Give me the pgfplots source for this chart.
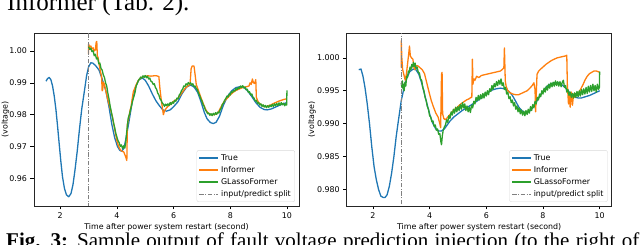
\documentclass[border=0pt]{standalone}
\usepackage{fontspec}
\setmainfont{DejaVu Sans}
\newfontfamily\timesfont{Liberation Serif}
\usepackage{pgfplots}
\pgfplotsset{compat=1.18}
\definecolor{tabblue}{HTML}{1F77B4}
\definecolor{taborange}{HTML}{FF7F0E}
\definecolor{tabgreen}{HTML}{2CA02C}
\newcommand{\chartfont}{\fontsize{7.9}{9}\selectfont}
\pgfplotsset{
  mystyle/.style={
    scale only axis, width=265pt, height=172.5pt,
    xmin=1.075, xmax=10.425,
    xtick={2,4,6,8,10},
    tick align=outside, tick pos=left,
    major tick length=3.5pt,
    every tick/.style={black, line width=0.6pt},
    axis line style={black!85, line width=0.6pt},
    tick label style={font=\chartfont},
    label style={font=\chartfont},
    xlabel style={inner sep=1pt},
    /pgf/number format/assume math mode=true,
    xlabel={Time after power system restart (second)},
    ylabel={(voltage)},
    legend style={at={(1,0)}, anchor=south east, xshift=-4pt, yshift=4pt,
      draw=black!15, rounded corners=2pt, font=\chartfont, fill=white,
      inner sep=2pt, row sep=0.6pt},
    legend cell align=left,
    legend image code/.code={\draw[#1] (0pt,0pt) -- (19pt,0pt);},
    every axis plot/.append style={line width=1.3pt, line join=round},
  }
}
\begin{document}
\begin{tikzpicture}[x=1pt,y=1pt]
\useasboundingbox (0,0) rectangle (640,245);
\node[anchor=base west, inner sep=0] at (7,234) {\timesfont\fontsize{25}{30}\selectfont Informer (Tab. 2).};
\node[anchor=base west, inner sep=0] at (6,-2.5) {\timesfont\fontsize{21}{24}\selectfont\hbox to 633pt{\textbf{Fig. 3:} Sample output of fault voltage prediction injection (to the right of}};

%================ LEFT ================
\begin{axis}[mystyle, at={(34pt,39pt)}, anchor=south west,
  ymin=0.9513, ymax=1.0055,
  ytick={0.96,0.97,0.98,0.99,1.00},
  yticklabel style={/pgf/number format/.cd, fixed, fixed zerofill, precision=2},
  ylabel style={at={(axis description cs:-0.108,0.5)}, anchor=center},
]
\addplot[tabblue] coordinates {
(1.50,0.9905)(1.55,0.9913)(1.61,0.9917)(1.67,0.9910)(1.73,0.9890)(1.79,0.9858)(1.85,0.9815)(1.90,0.9770)(1.96,0.9712)(2.02,0.9655)(2.08,0.9605)(2.15,0.9568)(2.22,0.9548)(2.30,0.9542)(2.38,0.9552)(2.45,0.9580)(2.52,0.9625)(2.60,0.9685)(2.68,0.9755)(2.76,0.9818)(2.85,0.9872)(2.93,0.9922)(3.00,0.9950)(3.08,0.9963)(3.15,0.9962)(3.25,0.9954)(3.37,0.9940)(3.48,0.9912)(3.61,0.9875)(3.72,0.9825)(3.82,0.9770)(3.92,0.9728)(4.02,0.9700)(4.10,0.9688)(4.17,0.9685)(4.25,0.9695)(4.33,0.9730)(4.43,0.9780)(4.55,0.9845)(4.67,0.9890)(4.78,0.9910)(4.90,0.9915)(5.00,0.9908)(5.12,0.9890)(5.25,0.9865)(5.38,0.9843)(5.50,0.9828)(5.62,0.9815)(5.75,0.9811)(5.88,0.9815)(6.00,0.9825)(6.15,0.9840)(6.30,0.9866)(6.46,0.9887)(6.60,0.9893)(6.72,0.9887)(6.85,0.9870)(6.97,0.9840)(7.08,0.9808)(7.18,0.9787)(7.30,0.9775)(7.40,0.9772)(7.50,0.9776)(7.62,0.9795)(7.75,0.9828)(7.90,0.9857)(8.05,0.9875)(8.20,0.9885)(8.35,0.9888)(8.45,0.9888)(8.60,0.9876)(8.75,0.9858)(8.90,0.9838)(9.05,0.9823)(9.20,0.9816)(9.30,0.9815)(9.45,0.9818)(9.60,0.9824)(9.75,0.9830)(9.90,0.9835)(10.00,0.9838)
};
\addlegendentry{True}
\addplot[taborange] coordinates {
(3.00,0.9990)(3.00,1.0022)(3.04,1.0012)(3.08,1.0016)(3.12,1.0006)(3.16,1.0010)(3.20,1.0000)(3.24,1.0004)(3.27,1.0028)(3.29,1.0030)(3.31,0.9985)(3.34,0.9978)(3.38,0.9955)(3.42,0.9935)(3.46,0.9920)(3.48,0.9875)(3.50,0.9878)(3.52,0.9902)(3.56,0.9895)(3.62,0.9870)(3.70,0.9840)(3.78,0.9815)(3.85,0.9790)(3.92,0.9755)(4.00,0.9718)(4.06,0.9700)(4.12,0.9690)(4.18,0.9685)(4.24,0.9683)(4.30,0.9670)(4.35,0.9656)(4.37,0.9770)(4.42,0.9790)(4.46,0.9812)(4.50,0.9825)(4.54,0.9850)(4.58,0.9872)(4.64,0.9885)(4.70,0.9898)(4.76,0.9908)(4.82,0.9914)(4.90,0.9918)(5.00,0.9921)(5.10,0.9922)(5.20,0.9921)(5.30,0.9922)(5.40,0.9922)(5.48,0.9920)(5.52,0.9880)(5.56,0.9850)(5.60,0.9825)(5.64,0.9800)(5.68,0.9812)(5.74,0.9820)(5.80,0.9826)(5.86,0.9830)(5.92,0.9835)(6.00,0.9842)(6.08,0.9846)(6.16,0.9852)(6.24,0.9862)(6.32,0.9872)(6.40,0.9882)(6.50,0.9890)(6.58,0.9895)(6.62,0.9945)(6.66,0.9953)(6.72,0.9953)(6.76,0.9925)(6.80,0.9895)(6.86,0.9880)(6.92,0.9865)(6.98,0.9850)(7.06,0.9832)(7.14,0.9815)(7.22,0.9805)(7.30,0.9800)(7.40,0.9800)(7.50,0.9802)(7.58,0.9808)(7.66,0.9822)(7.74,0.9835)(7.82,0.9845)(7.90,0.9852)(8.00,0.9862)(8.10,0.9870)(8.20,0.9876)(8.30,0.9880)(8.40,0.9884)(8.50,0.9886)(8.58,0.9888)(8.66,0.9890)(8.70,0.9900)(8.74,0.9895)(8.78,0.9912)(8.82,0.9900)(8.86,0.9898)(8.90,0.9910)(8.92,0.9855)(8.96,0.9845)(9.00,0.9838)(9.06,0.9833)(9.12,0.9830)(9.18,0.9826)(9.26,0.9825)(9.34,0.9828)(9.42,0.9830)(9.50,0.9834)(9.60,0.9838)(9.70,0.9842)(9.80,0.9845)(9.90,0.9848)(10.00,0.9850)
};
\addlegendentry{Informer}
\addplot[tabgreen] coordinates {
(3.00,1.0014)(3.04,1.0005)(3.08,1.0009)(3.12,0.9998)(3.16,1.0001)(3.20,0.9985)(3.24,0.9990)(3.28,0.9975)(3.32,0.9978)(3.36,0.9960)(3.40,0.9962)(3.44,0.9945)(3.48,0.9940)(3.52,0.9925)(3.56,0.9917)(3.60,0.9900)(3.64,0.9890)(3.68,0.9868)(3.72,0.9850)(3.76,0.9828)(3.80,0.9810)(3.84,0.9793)(3.88,0.9775)(3.92,0.9760)(3.96,0.9742)(4.00,0.9730)(4.04,0.9718)(4.08,0.9712)(4.12,0.9700)(4.16,0.9705)(4.20,0.9693)(4.24,0.9702)(4.28,0.9695)(4.31,0.9712)(4.34,0.9740)(4.37,0.9765)(4.40,0.9790)(4.44,0.9800)(4.48,0.9815)(4.52,0.9830)(4.56,0.9845)(4.60,0.9857)(4.64,0.9870)(4.68,0.9890)(4.72,0.9898)(4.76,0.9908)(4.80,0.9912)(4.84,0.9918)(4.88,0.9915)(4.92,0.9922)(4.96,0.9917)(5.00,0.9923)(5.04,0.9916)(5.08,0.9921)(5.12,0.9912)(5.16,0.9915)(5.20,0.9905)(5.24,0.9903)(5.28,0.9895)(5.32,0.9897)(5.36,0.9885)(5.40,0.9880)(5.44,0.9868)(5.48,0.9862)(5.52,0.9850)(5.56,0.9845)(5.60,0.9837)(5.64,0.9833)(5.68,0.9826)(5.72,0.9833)(5.76,0.9828)(5.80,0.9834)(5.84,0.9829)(5.88,0.9838)(5.92,0.9832)(5.96,0.9840)(6.00,0.9836)(6.04,0.9845)(6.08,0.9842)(6.12,0.9852)(6.16,0.9850)(6.20,0.9862)(6.24,0.9866)(6.28,0.9876)(6.32,0.9880)(6.36,0.9890)(6.40,0.9888)(6.44,0.9897)(6.48,0.9893)(6.52,0.9901)(6.56,0.9896)(6.60,0.9900)(6.64,0.9893)(6.68,0.9897)(6.72,0.9888)(6.76,0.9890)(6.80,0.9882)(6.84,0.9878)(6.88,0.9868)(6.92,0.9860)(6.96,0.9850)(7.00,0.9843)(7.04,0.9832)(7.08,0.9826)(7.12,0.9815)(7.16,0.9810)(7.20,0.9803)(7.24,0.9805)(7.28,0.9798)(7.32,0.9803)(7.36,0.9797)(7.40,0.9804)(7.44,0.9799)(7.48,0.9806)(7.52,0.9801)(7.56,0.9808)(7.60,0.9805)(7.64,0.9815)(7.68,0.9820)(7.72,0.9832)(7.76,0.9836)(7.80,0.9845)(7.84,0.9850)(7.88,0.9858)(7.92,0.9855)(7.96,0.9865)(8.00,0.9862)(8.04,0.9872)(8.08,0.9870)(8.12,0.9876)(8.16,0.9874)(8.20,0.9882)(8.24,0.9878)(8.28,0.9885)(8.32,0.9882)(8.36,0.9890)(8.40,0.9885)(8.44,0.9891)(8.48,0.9884)(8.52,0.9887)(8.56,0.9878)(8.60,0.9880)(8.64,0.9870)(8.68,0.9872)(8.72,0.9862)(8.76,0.9865)(8.80,0.9855)(8.84,0.9852)(8.88,0.9843)(8.92,0.9845)(8.96,0.9836)(9.00,0.9838)(9.04,0.9830)(9.08,0.9834)(9.12,0.9826)(9.16,0.9831)(9.20,0.9824)(9.24,0.9829)(9.28,0.9822)(9.32,0.9828)(9.36,0.9823)(9.40,0.9830)(9.44,0.9825)(9.48,0.9832)(9.52,0.9826)(9.56,0.9834)(9.60,0.9828)(9.64,0.9835)(9.68,0.9829)(9.72,0.9837)(9.76,0.9830)(9.80,0.9838)(9.84,0.9831)(9.88,0.9836)(9.92,0.9828)(9.96,0.9834)(9.99,0.9830)(10.00,0.9876)
};
\addlegendentry{GLassoFormer}
\addplot[gray, line width=0.9pt, dash pattern=on 4.5pt off 1.5pt on 1pt off 1.5pt] coordinates {(3,0.94) (3,1.02)};
\addlegendentry{input/predict split}
\end{axis}

%================ RIGHT ================
\begin{axis}[mystyle, at={(346.7pt,39pt)}, anchor=south west,
  ymin=0.9775, ymax=1.0037,
  ytick={0.980,0.985,0.990,0.995,1.000},
  yticklabel style={/pgf/number format/.cd, fixed, fixed zerofill, precision=3},
  ylabel style={at={(axis description cs:-0.131,0.5)}, anchor=center},
]
\addplot[tabblue] coordinates {
(1.50,0.9982)(1.58,0.9983)(1.65,0.9972)(1.72,0.9955)(1.80,0.9930)(1.88,0.9900)(1.96,0.9865)(2.04,0.9835)(2.12,0.9815)(2.20,0.9800)(2.28,0.9790)(2.36,0.9788)(2.43,0.9788)(2.50,0.9792)(2.58,0.9805)(2.66,0.9825)(2.74,0.9850)(2.82,0.9880)(2.90,0.9905)(3.00,0.9935)(3.10,0.9955)(3.20,0.9970)(3.30,0.9979)(3.42,0.9983)(3.52,0.9982)(3.62,0.9975)(3.72,0.9962)(3.82,0.9945)(3.92,0.9928)(4.02,0.9912)(4.12,0.9900)(4.22,0.9892)(4.32,0.9889)(4.42,0.9889)(4.52,0.9892)(4.62,0.9898)(4.72,0.9904)(4.85,0.9910)(5.00,0.9915)(5.15,0.9920)(5.30,0.9924)(5.45,0.9928)(5.60,0.9932)(5.75,0.9937)(5.90,0.9942)(6.05,0.9947)(6.20,0.9951)(6.35,0.9953)(6.50,0.9954)(6.65,0.9953)(6.80,0.9949)(6.92,0.9943)(7.05,0.9933)(7.15,0.9925)(7.25,0.9920)(7.35,0.9917)(7.45,0.9917)(7.55,0.9920)(7.65,0.9925)(7.75,0.9932)(7.85,0.9939)(7.95,0.9946)(8.05,0.9952)(8.15,0.9957)(8.25,0.9960)(8.40,0.9962)(8.55,0.9962)(8.70,0.9958)(8.85,0.9952)(8.95,0.9947)(9.05,0.9943)(9.15,0.9940)(9.25,0.9939)(9.35,0.9939)(9.50,0.9941)(9.65,0.9943)(9.80,0.9946)(10.00,0.9950)
};
\addlegendentry{True}
\addplot[taborange] coordinates {
(3.00,0.9985)(3.00,1.0026)(3.02,1.0000)(3.05,0.9982)(3.09,0.9975)(3.14,0.9966)(3.18,0.9975)(3.22,0.9990)(3.26,1.0005)(3.29,1.0018)(3.32,1.0003)(3.36,1.0000)(3.41,0.9998)(3.45,0.9985)(3.48,0.9982)(3.52,0.9988)(3.58,0.9988)(3.66,0.9985)(3.74,0.9982)(3.82,0.9976)(3.90,0.9962)(3.98,0.9948)(4.06,0.9935)(4.14,0.9925)(4.22,0.9916)(4.30,0.9910)(4.36,0.9900)(4.39,0.9894)(4.42,0.9975)(4.44,0.9978)(4.46,0.9915)(4.50,0.9908)(4.55,0.9906)(4.60,0.9908)(4.68,0.9912)(4.76,0.9916)(4.84,0.9920)(4.92,0.9923)(5.00,0.9926)(5.10,0.9930)(5.20,0.9933)(5.30,0.9936)(5.40,0.9938)(5.46,0.9940)(5.49,0.9940)(5.51,0.9998)(5.53,0.9960)(5.56,0.9968)(5.60,0.9966)(5.66,0.9972)(5.74,0.9970)(5.82,0.9973)(5.90,0.9974)(6.00,0.9975)(6.10,0.9976)(6.20,0.9977)(6.30,0.9978)(6.40,0.9979)(6.50,0.9980)(6.58,0.9983)(6.62,0.9985)(6.64,1.0015)(6.67,0.9965)(6.70,0.9957)(6.76,0.9950)(6.84,0.9947)(6.94,0.9945)(7.04,0.9944)(7.14,0.9944)(7.24,0.9946)(7.34,0.9948)(7.44,0.9950)(7.54,0.9954)(7.62,0.9958)(7.68,0.9962)(7.72,0.9952)(7.74,0.9918)(7.76,0.9940)(7.79,0.9975)(7.85,0.9980)(7.92,0.9983)(8.00,0.9986)(8.10,0.9990)(8.20,0.9993)(8.30,0.9996)(8.40,0.9998)(8.50,1.0000)(8.60,1.0001)(8.70,1.0002)(8.80,1.0003)(8.84,1.0004)(8.86,0.9960)(8.90,0.9930)(8.93,0.9945)(8.96,0.9925)(9.00,0.9948)(9.04,0.9928)(9.08,0.9945)(9.12,0.9940)(9.18,0.9946)(9.24,0.9944)(9.30,0.9950)(9.36,0.9955)(9.42,0.9960)(9.48,0.9966)(9.56,0.9972)(9.64,0.9976)(9.72,0.9978)(9.80,0.9980)(9.88,0.9980)(9.95,0.9979)(10.00,0.9978)
};
\addlegendentry{Informer}
\addplot[tabgreen] coordinates {
(3.00,0.9962)(3.02,0.9955)(3.04,0.9965)(3.06,0.9953)(3.08,0.9960)(3.10,0.9950)(3.13,0.9963)(3.16,0.9957)(3.19,0.9972)(3.22,0.9970)(3.25,0.9980)(3.28,0.9978)(3.31,0.9986)(3.34,0.9982)(3.37,0.9990)(3.40,0.9986)(3.43,0.9993)(3.46,0.9987)(3.49,0.9992)(3.52,0.9984)(3.56,0.9986)(3.60,0.9978)(3.64,0.9977)(3.68,0.9968)(3.72,0.9966)(3.76,0.9955)(3.80,0.9950)(3.84,0.9940)(3.88,0.9935)(3.92,0.9926)(3.96,0.9922)(4.00,0.9912)(4.04,0.9910)(4.08,0.9903)(4.12,0.9904)(4.16,0.9896)(4.20,0.9898)(4.24,0.9890)(4.28,0.9892)(4.32,0.9884)(4.36,0.9885)(4.40,0.9872)(4.42,0.9868)(4.45,0.9882)(4.48,0.9890)(4.52,0.9895)(4.56,0.9898)(4.60,0.9906)(4.64,0.9902)(4.68,0.9912)(4.72,0.9908)(4.76,0.9918)(4.80,0.9913)(4.84,0.9922)(4.88,0.9916)(4.92,0.9925)(4.96,0.9918)(5.00,0.9926)(5.04,0.9920)(5.08,0.9929)(5.12,0.9922)(5.16,0.9932)(5.20,0.9924)(5.24,0.9930)(5.28,0.9920)(5.32,0.9927)(5.36,0.9918)(5.40,0.9925)(5.44,0.9917)(5.48,0.9928)(5.52,0.9924)(5.56,0.9934)(5.60,0.9930)(5.64,0.9940)(5.68,0.9935)(5.72,0.9943)(5.76,0.9936)(5.80,0.9944)(5.84,0.9938)(5.88,0.9946)(5.92,0.9939)(5.96,0.9948)(6.00,0.9942)(6.04,0.9950)(6.08,0.9944)(6.12,0.9953)(6.16,0.9949)(6.20,0.9958)(6.24,0.9952)(6.28,0.9961)(6.32,0.9956)(6.36,0.9964)(6.40,0.9958)(6.44,0.9966)(6.48,0.9960)(6.52,0.9968)(6.56,0.9958)(6.60,0.9962)(6.64,0.9952)(6.68,0.9955)(6.72,0.9945)(6.76,0.9948)(6.80,0.9938)(6.84,0.9941)(6.88,0.9932)(6.92,0.9936)(6.96,0.9927)(7.00,0.9932)(7.04,0.9922)(7.08,0.9927)(7.12,0.9918)(7.16,0.9924)(7.20,0.9915)(7.24,0.9921)(7.28,0.9913)(7.32,0.9919)(7.36,0.9912)(7.40,0.9920)(7.44,0.9914)(7.48,0.9922)(7.52,0.9916)(7.56,0.9926)(7.60,0.9920)(7.64,0.9929)(7.68,0.9924)(7.72,0.9934)(7.76,0.9930)(7.80,0.9940)(7.84,0.9936)(7.88,0.9945)(7.92,0.9941)(7.96,0.9950)(8.00,0.9945)(8.04,0.9954)(8.08,0.9948)(8.12,0.9957)(8.16,0.9951)(8.20,0.9960)(8.24,0.9954)(8.28,0.9962)(8.32,0.9956)(8.36,0.9963)(8.40,0.9957)(8.44,0.9965)(8.48,0.9958)(8.52,0.9964)(8.56,0.9957)(8.60,0.9964)(8.64,0.9956)(8.68,0.9963)(8.72,0.9966)(8.76,0.9955)(8.80,0.9958)(8.84,0.9948)(8.88,0.9952)(8.92,0.9943)(8.96,0.9948)(9.00,0.9940)(9.04,0.9946)(9.08,0.9939)(9.12,0.9947)(9.16,0.9940)(9.20,0.9949)(9.24,0.9941)(9.28,0.9950)(9.32,0.9942)(9.36,0.9952)(9.40,0.9944)(9.44,0.9953)(9.48,0.9945)(9.52,0.9955)(9.56,0.9946)(9.60,0.9957)(9.64,0.9948)(9.68,0.9958)(9.72,0.9949)(9.76,0.9960)(9.80,0.9950)(9.84,0.9958)(9.88,0.9948)(9.92,0.9960)(9.96,0.9952)(9.99,0.9955)(10.00,0.9979)
};
\addlegendentry{GLassoFormer}
\addplot[gray, line width=0.9pt, dash pattern=on 4.5pt off 1.5pt on 1pt off 1.5pt] coordinates {(3,0.97) (3,1.01)};
\addlegendentry{input/predict split}
\end{axis}
\end{tikzpicture}
\end{document}
